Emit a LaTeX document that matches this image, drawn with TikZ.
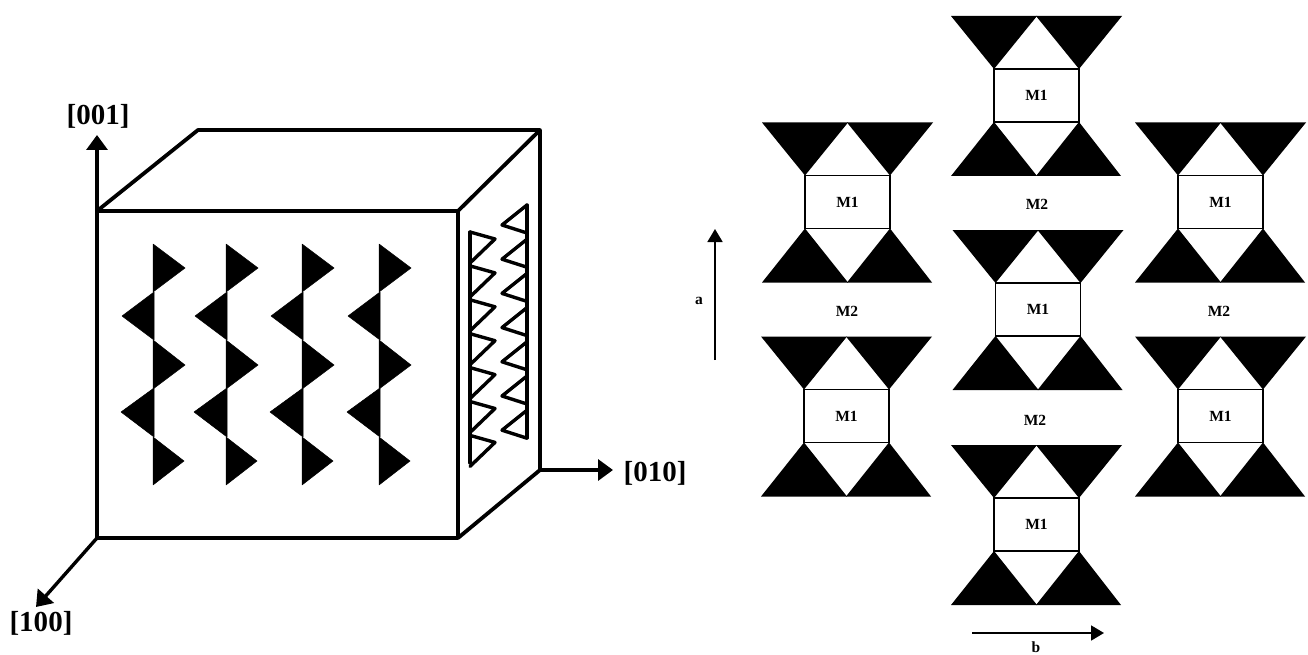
\documentclass[tikz,border=0pt]{standalone}
\usepackage{fontspec}
\setmainfont{Liberation Serif}[BoldFont={Liberation Serif Bold},BoldFeatures={}]
\usetikzlibrary{arrows.meta}
\tikzset{
  x=1pt,y=-1pt,
  edge/.style={line width=3.8pt,line join=round,line cap=round},
  axis/.style={line width=3.4pt,-{Triangle[length=15pt,width=21pt]}},
  thin axis/.style={line width=1.8pt,-{Triangle[length=13pt,width=15pt]}},
  solid tri/.style={fill=black,draw=black,line width=.5pt,line join=round},
  open tri/.style={draw=black,line width=3.4pt,line join=round,line cap=round,fill=none},
  axis label/.style={font=\fontspec{Liberation Serif Bold}\fontsize{29}{30}\selectfont,inner sep=0pt},
  unit label/.style={font=\fontspec{Liberation Serif Bold}\fontsize{15.5}{16}\selectfont,inner sep=0pt},
  cell/.style={draw=black,line width=1.8pt,minimum width=85pt,minimum height=53pt,inner sep=0pt,outer sep=0pt,
     font=\fontspec{Liberation Serif Bold}\fontsize{15.5}{16}\selectfont},
}
\newcommand{\unitcell}[3]{%
  \node[cell] (#3) at (#1,#2) {M1};
  \fill (#3.north west) -- ++(-43,-53) -- ++(86,0) -- cycle;
  \fill (#3.north east) -- ++(43,-53) -- ++(-86,0) -- cycle;
  \fill (#3.south west) -- ++(-43,54) -- ++(86,0) -- cycle;
  \fill (#3.south east) -- ++(42,54) -- ++(-85,0) -- cycle;
}
\newcommand{\zigzag}[1]{%
  \path[solid tri] (#1,244) -- (#1+32,268) -- (#1,292) -- cycle;
  \path[solid tri] (#1+1,292) -- (#1-31,316) -- (#1+1,340) -- cycle;
  \path[solid tri] (#1,340) -- (#1+32,365) -- (#1,389) -- cycle;
  \path[solid tri] (#1+1,388) -- (#1-32,412) -- (#1+1,437) -- cycle;
  \path[solid tri] (#1,437) -- (#1+31,461) -- (#1,485) -- cycle;
}
\begin{document}
\begin{tikzpicture}
\useasboundingbox (0,0) rectangle (1308,655);
% cube
\coordinate (fa) at (97,211);
\coordinate (fb) at (458,211);
\coordinate (fc) at (458,538);
\coordinate (fd) at (97,538);
\coordinate (ba) at (198,130);
\coordinate (bb) at (540,130);
\coordinate (bc) at (540,470);
\draw[edge] (fa) -- (fb) -- (fc) -- (fd) -- cycle;
\draw[edge] (fa) -- (ba) -- (bb) -- (bc) -- (fc);
\draw[edge] (fb) -- (bb);
% axes
\coordinate (t1) at (97,135);
\coordinate (t2) at (613,470);
\coordinate (t3) at (36,607);
\draw[axis] (fa) -- (t1);
\draw[axis] (bc) -- (t2);
\draw[axis] (fd) -- (t3);
\node[axis label] (l1) at (98,116) {[001]};
\node[axis label] (l2) at (655,473) {[010]};
\node[axis label] (l3) at (41,623) {[100]};
% front zigzags
\zigzag{153}
\zigzag{226}
\zigzag{302}
\zigzag{379}
% side triangles
\draw[open tri] (470,232) -- (470,463);
\draw[open tri] (527,205) -- (527,438);
\foreach \i in {0,...,6}{
  \draw[open tri] (470,232+33.9*\i) -- (495,239+33.9*\i) -- (470,263+33.9*\i);
  \draw[open tri] (527,205+34.2*\i) -- (502,225+34.2*\i) -- (527,233+34.2*\i);
}
% unit cells
\unitcell{1036.5}{95.5}{u1}
\unitcell{847.5}{202}{u2}
\unitcell{846.5}{416}{u3}
\unitcell{1038}{309.5}{u4}
\unitcell{1036.5}{524.5}{u5}
\unitcell{1220.5}{202}{u6}
\unitcell{1220.5}{416}{u7}
% M2
\node[unit label] (m1) at (847,311) {M2};
\node[unit label] (m2) at (1037,204) {M2};
\node[unit label] (m3) at (1035,420) {M2};
\node[unit label] (m4) at (1219,311) {M2};
% a, b
\coordinate (a0) at (715,360);
\coordinate (a1) at (715,229);
\coordinate (b0) at (972,633);
\coordinate (b1) at (1104,633);
\draw[thin axis] (a0) -- (a1);
\draw[thin axis] (b0) -- (b1);
\node[unit label] (la) at (699,301) {a};
\node[unit label] (lb) at (1036,647) {b};
\end{tikzpicture}
\end{document}
